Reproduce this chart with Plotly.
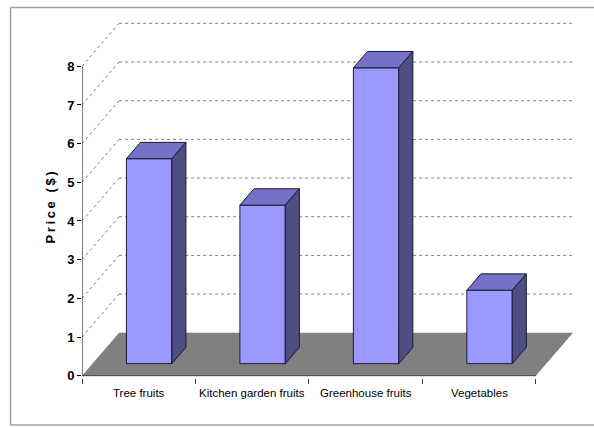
import plotly.graph_objects as go

# ---- data ----
categories = ["Tree fruits", "Kitchen garden fruits", "Greenhouse fruits", "Vegetables"]
prices = [5.3, 4.1, 7.65, 1.9]
y_ticks = [0, 1, 2, 3, 4, 5, 6, 7, 8]

# ---- 3D projection parameters (in axis units) ----
DX = 0.327   # depth offset along x (category units)
DY = 1.11    # depth offset along y (price units)
D0, D1 = 0.28, 0.66   # bar front / back depth fraction
HALF_W = 0.2          # half bar width

FRONT = "#9999FF"
TOP = "#7272C6"
SIDE = "#4E4E82"
EDGE = "#1a1a33"
FLOOR = "#808080"
GRID = "#808080"

FONT = "Liberation Sans Narrow, Arial Narrow, Liberation Sans, Arial, sans-serif"

n = len(categories)
x_left, x_right = -0.5, n - 0.5
top_level = max(y_ticks)

fig = go.Figure()
shapes = []

# floor
shapes.append(dict(
    type="path", xref="x", yref="y", layer="below",
    path=f"M {x_left},0 L {x_right},0 L {x_right+DX},{DY} L {x_left+DX},{DY} Z",
    fillcolor=FLOOR, line=dict(width=0)))

# gridlines: back wall + left-wall diagonals
for k in y_ticks[1:]:
    shapes.append(dict(type="line", xref="x", yref="y", layer="below",
                       x0=x_left + DX, y0=k + DY, x1=x_right + DX, y1=k + DY,
                       line=dict(color=GRID, width=1, dash="dot")))
    shapes.append(dict(type="line", xref="x", yref="y", layer="below",
                       x0=x_left, y0=k, x1=x_left + DX, y1=k + DY,
                       line=dict(color=GRID, width=1, dash="dot")))

# y axis line
shapes.append(dict(type="line", xref="x", yref="y", layer="above",
                   x0=x_left, y0=0, x1=x_left, y1=top_level,
                   line=dict(color="#000000", width=1)))
# x axis (floor front edge)
shapes.append(dict(type="line", xref="x", yref="y", layer="above",
                   x0=x_left, y0=0, x1=x_right, y1=0,
                   line=dict(color="#404040", width=1)))

# chart-area border (left, top, bottom; right edge lies off the canvas)
L, R, T, B = 82, 21, 16, 49
W, H = 594, 427
pw, ph = W - L - R, H - T - B
px = lambda v: (v - L) / pw
py = lambda v: ((H - B) - v) / ph
BORDER = dict(color="#A0A0A0", width=1.5)
shapes.append(dict(type="line", xref="paper", yref="paper", layer="below",
                   x0=px(10.5), x1=px(10.5), y0=py(425), y1=py(7.5), line=BORDER))
shapes.append(dict(type="line", xref="paper", yref="paper", layer="below",
                   x0=px(10.5), x1=px(700), y0=py(7.5), y1=py(7.5), line=BORDER))
shapes.append(dict(type="line", xref="paper", yref="paper", layer="below",
                   x0=px(10.5), x1=px(700), y0=py(425), y1=py(425), line=BORDER))

# bars
for i, v in enumerate(prices):
    xl, xr = i - HALF_W, i + HALF_W
    fx0, fx1, fy = xl + D0 * DX, xr + D0 * DX, D0 * DY
    bx0, bx1, by = xl + D1 * DX, xr + D1 * DX, D1 * DY
    # front
    fig.add_trace(go.Scatter(
        x=[fx0, fx1, fx1, fx0, fx0], y=[fy, fy, fy + v, fy + v, fy],
        fill="toself", fillcolor=FRONT, mode="lines",
        line=dict(color=EDGE, width=1), hoverinfo="skip", showlegend=False))
    # top
    fig.add_trace(go.Scatter(
        x=[fx0, fx1, bx1, bx0, fx0], y=[fy + v, fy + v, by + v, by + v, fy + v],
        fill="toself", fillcolor=TOP, mode="lines",
        line=dict(color=EDGE, width=1), hoverinfo="skip", showlegend=False))
    # side
    fig.add_trace(go.Scatter(
        x=[fx1, bx1, bx1, fx1, fx1], y=[fy, by, by + v, fy + v, fy],
        fill="toself", fillcolor=SIDE, mode="lines",
        line=dict(color=EDGE, width=1), hoverinfo="skip", showlegend=False))

# category labels
annotations = []
for i, c in enumerate(categories):
    annotations.append(dict(x=i, y=0, xref="x", yref="y", text=c, showarrow=False,
                            yanchor="top", yshift=-9,
                            font=dict(family=FONT, size=11.5, color="#000000")))

# y title
annotations.append(dict(x=px(40), y=py(208), xref="paper", yref="paper",
                        text="<b>P\u2009r\u2009i\u2009c\u2009e\u2009 \u2009(\u2009$\u2009)</b>",
                        textangle=-90, showarrow=False,
                        font=dict(family=FONT, size=13, color="#000000")))

fig.update_layout(
    width=W, height=H,
    margin=dict(l=L, r=R, t=T, b=B),
    paper_bgcolor="white", plot_bgcolor="white",
    shapes=shapes, annotations=annotations,
    xaxis=dict(range=[x_left, x_right + DX], showgrid=False, zeroline=False, showline=False,
               tickmode="array", tickvals=[x_left + k for k in range(n + 1)],
               ticks="outside", ticklen=5, tickcolor="#404040", showticklabels=False,
               fixedrange=True),
    yaxis=dict(range=[-0.06, 9.30], showgrid=False, zeroline=False, showline=False,
               tickmode="array", tickvals=y_ticks, ticktext=[str(t) for t in y_ticks],
               ticks="outside", ticklen=4, tickcolor="#000000",
               tickfont=dict(family=FONT, size=13, color="#000000", weight="bold"),
               fixedrange=True),
    showlegend=False,
)

fig.write_html("out.html")
